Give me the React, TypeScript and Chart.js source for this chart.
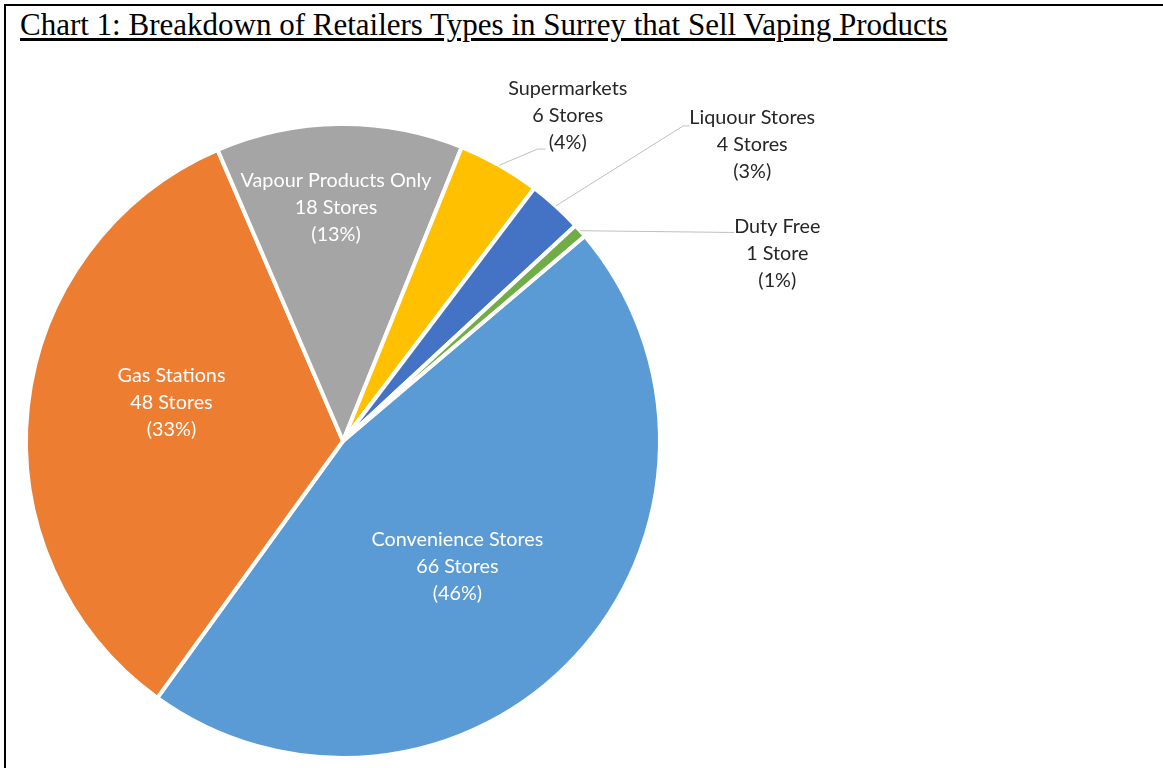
import React, { useEffect, useRef } from "react";
import { Chart, registerables } from "chart.js";

Chart.register(...registerables);

const categories = [
  "Convenience Stores",
  "Gas Stations",
  "Vapour Products Only",
  "Supermarkets",
  "Liquour Stores",
  "Duty Free",
];
const storeCounts = [66, 48, 18, 6, 4, 1];
const storeLabels = ["66 Stores", "48 Stores", "18 Stores", "6 Stores", "4 Stores", "1 Store"];
const percentLabels = ["(46%)", "(33%)", "(13%)", "(4%)", "(3%)", "(1%)"];
const sliceColors = ["#5B9BD5", "#ED7D31", "#A5A5A5", "#FFC000", "#4472C4", "#70AD47"];

// label centres (middle line) in units of pie radius, relative to the pie centre
const labelOffsets: [number, number][] = [
  [0.361, 0.396],
  [-0.541, -0.12],
  [-0.022, -0.737],
  [0.709, -1.025],
  [1.291, -0.934],
  [1.37, -0.592],
];
const insideLabel = [true, true, true, false, false, false];
// leader lines: elbow and end, in units of radius
const leaderElbows: ([number, number] | null)[] = [null, null, null, [0.614, -0.921], [1.073, -0.994], [1.215, -0.658]];
const leaderEnds: ([number, number] | null)[] = [null, null, null, [0.639, -0.921], [1.092, -0.994], [1.234, -0.658]];

const TITLE = "Chart 1: Breakdown of Retailers Types in Surrey that Sell Vaping Products";

const labelPlugin = {
  id: "pieLabels",
  afterDatasetsDraw(chart: any) {
    const ctx = chart.ctx as CanvasRenderingContext2D;
    const meta = chart.getDatasetMeta(0);
    const first = meta.data[0];
    const cx = first.x;
    const cy = first.y;
    const R = first.outerRadius;
    ctx.save();
    // leader lines
    meta.data.forEach((arc: any, i: number) => {
      const elbow = leaderElbows[i];
      const end = leaderEnds[i];
      if (!elbow || !end) return;
      const mid = (arc.startAngle + arc.endAngle) / 2;
      ctx.beginPath();
      ctx.strokeStyle = "#BFBFBF";
      ctx.lineWidth = 1;
      ctx.moveTo(cx + Math.cos(mid) * R, cy + Math.sin(mid) * R);
      ctx.lineTo(cx + elbow[0] * R, cy + elbow[1] * R);
      ctx.lineTo(cx + end[0] * R, cy + end[1] * R);
      ctx.stroke();
    });
    ctx.font = "19.8px Lato";
    ctx.textAlign = "center";
    ctx.textBaseline = "middle";
    categories.forEach((name, i) => {
      const [ox, oy] = labelOffsets[i];
      const lx = cx + ox * R;
      const ly = cy + oy * R;
      ctx.fillStyle = insideLabel[i] ? "#FFFFFF" : "#262626";
      const lines = [name, storeLabels[i], percentLabels[i]];
      lines.forEach((t, k) => ctx.fillText(t, lx, ly + (k - 1) * 27));
    });
    ctx.restore();
  },
};

export default function App() {
  const ref = useRef<HTMLCanvasElement | null>(null);
  useEffect(() => {
    if (!ref.current) return;
    const chart = new Chart(ref.current, {
      type: "pie",
      data: {
        labels: categories,
        datasets: [
          {
            data: storeCounts,
            backgroundColor: sliceColors,
            borderColor: "#FFFFFF",
            borderWidth: 4,
          },
        ],
      },
      options: {
        animation: false,
        responsive: false,
        rotation: 49.7,
        layout: { padding: { left: 24, top: 122, right: 501, bottom: 8 } },
        plugins: {
          legend: { display: false },
          tooltip: { enabled: false },
          title: { display: false },
        },
      },
      plugins: [labelPlugin],
    });
    return () => chart.destroy();
  }, []);

  return (
    <div
      style={{
        position: "fixed",
        left: 0,
        top: 0,
        width: 1163,
        height: 768,
        background: "#FFFFFF",
        overflow: "hidden",
      }}
    >
      <div
        style={{
          position: "absolute",
          left: 4,
          top: 4,
          width: 1300,
          height: 900,
          border: "2px solid #000000",
          boxSizing: "border-box",
        }}
      />
      <div
        style={{
          position: "absolute",
          left: 20,
          top: 6,
          fontFamily: "'Liberation Serif', 'DejaVu Serif', serif",
          fontSize: 31,
          lineHeight: "38px",
          color: "#000000",
          textDecoration: "underline",
          textUnderlineOffset: 3,
          whiteSpace: "nowrap",
        }}
      >
        {TITLE}
      </div>
      <canvas
        ref={ref}
        width={1163}
        height={768}
        style={{ position: "absolute", left: 0, top: 0, width: 1163, height: 768 }}
      />
    </div>
  );
}
